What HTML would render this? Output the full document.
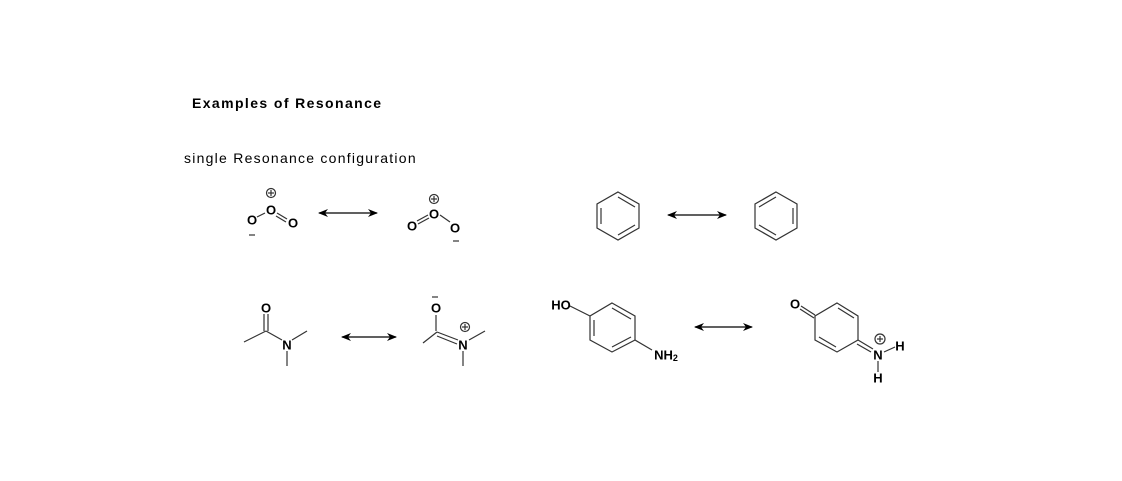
<!DOCTYPE html>
<html><head><meta charset="utf-8"><style>
body{margin:0;background:#fff;width:1122px;height:481px;overflow:hidden}
svg{display:block}
text{font-family:"Liberation Sans",Arial,sans-serif}
.a{font-weight:bold;font-size:13px;text-anchor:middle;dominant-baseline:central}
</style></head><body>
<svg width="1122" height="481" viewBox="0 0 1122 481">
<defs><marker id="h" markerWidth="10" markerHeight="8" refX="9" refY="4" orient="auto-start-reverse" markerUnits="userSpaceOnUse"><path d="M0,0 L10,4 L0,8 L3,4Z" fill="#000"/></marker></defs>
<text x="192" y="108" font-size="14" font-weight="bold" letter-spacing="1.4">Examples of Resonance</text>
<text x="184" y="163" font-size="14" letter-spacing="1.25">single Resonance configuration</text>
<g stroke="#000" stroke-width="1.2" fill="none">
<line x1="319" y1="213" x2="377" y2="213" marker-start="url(#h)" marker-end="url(#h)"/>
<line x1="668" y1="215" x2="726" y2="215" marker-start="url(#h)" marker-end="url(#h)"/>
<line x1="342" y1="337" x2="396" y2="337" marker-start="url(#h)" marker-end="url(#h)"/>
<line x1="695" y1="327" x2="752" y2="327" marker-start="url(#h)" marker-end="url(#h)"/>
</g>
<g stroke="#333" stroke-width="1.2" fill="none">
<line x1="257" y1="217" x2="265" y2="213"/>
<line x1="277" y1="213" x2="287" y2="219"/><line x1="276" y1="216" x2="286" y2="222"/>
<circle cx="271" cy="193" r="4.5"/><line x1="268" y1="193" x2="274" y2="193"/><line x1="271" y1="190" x2="271" y2="196"/>
<line x1="249" y1="235" x2="255" y2="235"/>
<line x1="417" y1="221" x2="428" y2="215"/><line x1="418" y1="224" x2="429" y2="218"/>
<line x1="440" y1="215" x2="450" y2="222"/>
<circle cx="434" cy="199" r="4.5"/><line x1="431" y1="199" x2="437" y2="199"/><line x1="434" y1="196" x2="434" y2="202"/>
<line x1="453" y1="241" x2="459" y2="241"/>
<polygon points="618,192 639,204 639,228 618,240 597,228 597,204"/>
<line x1="618" y1="197" x2="635" y2="207"/><line x1="635" y1="225" x2="618" y2="235"/><line x1="601" y1="224" x2="601" y2="208"/>
<polygon points="776,192 797,204 797,228 776,240 755,228 755,204"/>
<line x1="793" y1="208" x2="793" y2="224"/><line x1="776" y1="235" x2="759" y2="225"/><line x1="759" y1="207" x2="776" y2="197"/>
<line x1="264" y1="314" x2="264" y2="331"/><line x1="268" y1="314" x2="268" y2="331"/>
<line x1="244" y1="342" x2="266" y2="331"/><line x1="266" y1="331" x2="282" y2="340"/>
<line x1="292" y1="340" x2="307" y2="331"/><line x1="287" y1="351" x2="287" y2="366"/>
<line x1="436" y1="315" x2="436" y2="331"/>
<line x1="423" y1="343" x2="437" y2="332"/><line x1="437" y1="332" x2="458" y2="340"/><line x1="437" y1="336" x2="457" y2="344"/>
<line x1="469" y1="340" x2="485" y2="331"/><line x1="463" y1="351" x2="463" y2="366"/>
<circle cx="465" cy="327" r="4.5"/><line x1="462" y1="327" x2="468" y2="327"/><line x1="465" y1="324" x2="465" y2="330"/>
<line x1="432" y1="297" x2="438" y2="297"/>
<polygon points="612,303 635,316 635,340 612,352 590,340 590,316"/>
<line x1="612" y1="308" x2="631" y2="319"/><line x1="631" y1="337" x2="612" y2="347"/><line x1="594" y1="336" x2="594" y2="320"/>
<line x1="570" y1="306" x2="590" y2="316"/><line x1="635" y1="340" x2="652" y2="350"/>
<polygon points="837,303 858,316 858,340 837,352 815,340 815,316"/>
<line x1="838" y1="308" x2="854" y2="318"/><line x1="819" y1="337" x2="836" y2="347"/>
<line x1="801" y1="306" x2="815" y2="315"/><line x1="800" y1="309" x2="814" y2="318"/>
<line x1="858" y1="340" x2="873" y2="349"/><line x1="857" y1="344" x2="871" y2="352"/>
<line x1="884" y1="352" x2="895" y2="347"/><line x1="878" y1="361" x2="878" y2="372"/>
<circle cx="880" cy="339" r="5"/><line x1="877" y1="339" x2="883" y2="339"/><line x1="880" y1="336" x2="880" y2="342"/>
</g>
<g class="a">
<text x="252" y="220" class="a">O</text><text x="271" y="210" class="a">O</text><text x="293" y="223" class="a">O</text>
<text x="412" y="226" class="a">O</text><text x="434" y="214" class="a">O</text><text x="455" y="228" class="a">O</text>
<text x="266" y="308" class="a">O</text><text x="287" y="345" class="a">N</text>
<text x="436" y="308" class="a">O</text><text x="463" y="345" class="a">N</text>
<text x="561" y="305" class="a">HO</text>
<text x="666" y="355" class="a">NH<tspan font-size="9" dy="3">2</tspan></text>
<text x="795" y="304" class="a">O</text>
<text x="878" y="355" class="a">N</text><text x="900" y="346" class="a">H</text><text x="878" y="378" class="a">H</text>
</g>
</svg>
</body></html>
